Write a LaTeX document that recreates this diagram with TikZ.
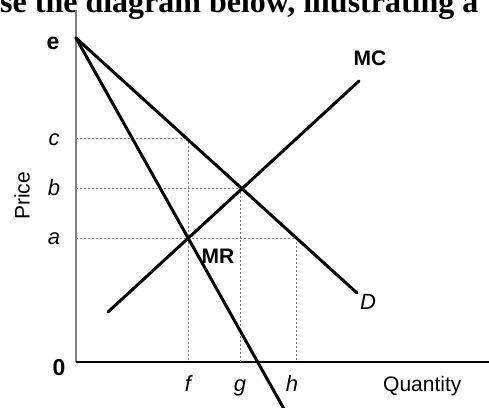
\documentclass[tikz,border=0pt]{standalone}
\usepackage{fontspec}
\setmainfont{Liberation Serif}
\newfontfamily\arialfont{Liberation Sans}
\begin{document}
\begin{tikzpicture}[x=1pt, y=-1pt,
    ecoAxis/.style={line width=1.2pt},
    ecoCurve/.style={line width=3pt, line cap=round},
    ecoGuide/.style={gray, line width=1pt, dash pattern=on 2pt off 2pt},
    ecoVar/.style={inner sep=0pt, font=\arialfont\fontsize{22}{22}\selectfont\itshape},
    ecoName/.style={inner sep=0pt, font=\arialfont\fontsize{21}{21}\selectfont\bfseries},
    ecoTitle/.style={inner sep=0pt, font=\arialfont\fontsize{21}{21}\selectfont}]
  \useasboundingbox (0,0) rectangle (489,407);
  \clip (0,0) rectangle (489,407);

  % heading, cut off by the crop
  \node[anchor=base west, inner sep=0pt, font=\bfseries\fontsize{32}{32}\selectfont] (heading) at (0,12) {se the diagram below, illustrating a};

  % axes
  \coordinate (origin) at (76,362);
  \coordinate (yTop) at (76,10);
  \coordinate (xEnd) at (489,362);
  \draw[ecoAxis, gray] (origin) -- (yTop);
  \draw[ecoAxis] (origin) -- (xEnd);

  % points on the curves
  \coordinate (pe) at (76,38);
  \coordinate (pc) at (188,138);
  \coordinate (pb) at (240,188);
  \coordinate (pa) at (188,238);
  \coordinate (ph) at (296,238);
  \coordinate (dEnd) at (357,293);
  \coordinate (mrEnd) at (284,409);
  \coordinate (mcStart) at (108,312);
  \coordinate (mcEnd) at (359,81);

  % guides
  \draw[ecoGuide] (pc -| origin) -- (pc) -- (pc |- origin);
  \draw[ecoGuide] (pb -| origin) -- (pb) -- (pb |- origin);
  \draw[ecoGuide] (pa -| origin) -- (ph) -- (ph |- origin);

  % curves
  \draw[ecoCurve] (pe) -- (dEnd);
  \draw[ecoCurve] (pe) -- (mrEnd);
  \draw[ecoCurve] (mcStart) -- (mcEnd);

  % labels
  \node[ecoName, font=\arialfont\fontsize{23}{23}\selectfont\bfseries] (eLabel) at (53,43) {e};
  \node[ecoVar] (cLabel) at (54,140) {c};
  \node[ecoVar] (bLabel) at (54,188) {b};
  \node[ecoVar] (aLabel) at (54,239) {a};
  \node[ecoName, font=\arialfont\fontsize{23}{23}\selectfont\bfseries] (zeroLabel) at (59,368) {0};
  \node[ecoTitle, rotate=90] (priceLabel) at (22,196) {Price};
  \node[ecoVar, anchor=base] (fLabel) at (188,391) {f};
  \node[ecoVar, anchor=base] (gLabel) at (240,391) {g};
  \node[ecoVar, anchor=base] (hLabel) at (292,391) {h};
  \node[ecoTitle, anchor=base west] (qtyLabel) at (383,391) {Quantity};
  \node[ecoName] (mcLabel) at (370,58) {MC};
  \node[ecoName] (mrLabel) at (218,256) {MR};
  \node[ecoVar] (dLabel) at (368,302) {D};
\end{tikzpicture}
\end{document}
